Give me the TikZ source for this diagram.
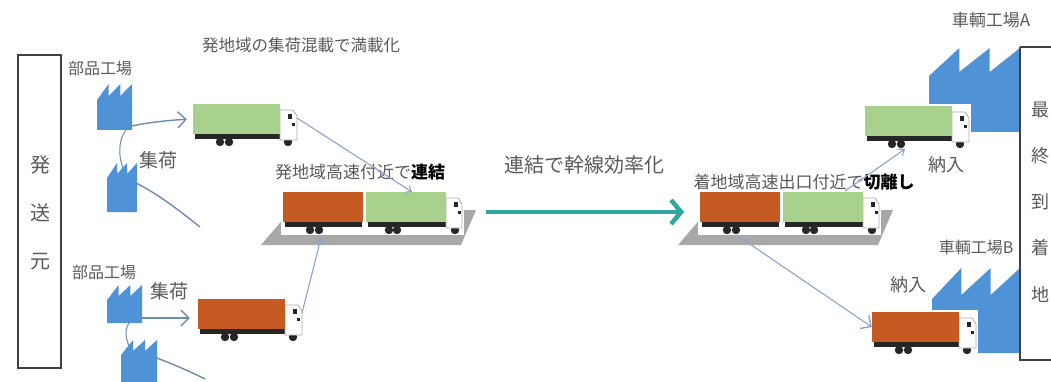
\documentclass[tikz,border=0pt]{standalone}
\usepackage{fontspec}
\newfontfamily\jp{Noto Sans CJK JP}
\usetikzlibrary{arrows.meta}

\definecolor{factoryblue}{HTML}{4F92D6}
\definecolor{cargogreen}{HTML}{A9D18E}
\definecolor{cargoorange}{HTML}{C55A22}
\definecolor{trunkteal}{HTML}{2FA69E}
\definecolor{labelgray}{HTML}{5A5A5A}
\definecolor{feedblue}{HTML}{6E8CAE}
\definecolor{linkblue}{HTML}{89A5CE}
\definecolor{platformgray}{HTML}{A8A8A8}

\tikzset{
  lbl/.style={font=\jp\fontsize{16.5}{18}\selectfont, text=labelgray, inner sep=0pt},
  biglbl/.style={font=\jp\fontsize{20}{22}\selectfont, text=labelgray, inner sep=0pt},
  cargobox/.style={inner sep=0pt, minimum height=30pt, draw=none},
  chassis/.style={black!85},
  cabline/.style={draw=gray!65, line width=0.8pt, fill=white},
  feed/.style={draw=feedblue, line width=1.4pt},
  feedarrow/.style={feed, -{Straight Barb[length=8pt,width=16pt,line width=1.4pt]}},
  link/.style={draw=linkblue, line width=1.1pt, -{Straight Barb[length=5pt,width=8pt]}},
  trunk/.style={draw=trunkteal, line width=4.5pt, -{Straight Barb[length=10pt,width=24pt,line width=4.5pt]}},
  sidebox/.style={draw=black!75, line width=1.6pt},
}

% a factory with a three-tooth saw roof: name, left x, right x, peak y, valley y, bottom y
\newcommand\factory[6]{%
  \fill[factoryblue] (#2,#6) -- (#2,{#5+4})
    -- ({#2+(#3-#2)/3},#4) -- ({#2+(#3-#2)/3},#5)
    -- ({#2+2*(#3-#2)/3},#4) -- ({#2+2*(#3-#2)/3},#5)
    -- (#3,#4) -- (#3,#6) -- cycle;
  \coordinate (#1) at ({(#2+#3)/2},{(#5+#6)/2});
}

% a single truck: name, x, y of the cargo box top-left, cargo colour
\newcommand\singletruck[4]{%
  \begin{scope}[shift={(#2,#3)}]
    \fill[white] (-2,-2) rectangle (106,45);
    \fill[chassis] (2,30) rectangle (99,35);
    \foreach \wx in {27,36,95} \fill[chassis] (\wx,38) circle[radius=4.2];
    \draw[cabline] (87,6) -- (100,6) -- (104,12) -- (104,36) -- (87,36) -- cycle;
    \fill[chassis] (95,10) rectangle (99,15);
    \fill[chassis] (99,19) rectangle (102,22);
    \node[cargobox, minimum width=87pt, fill=#4] (#1) at (43.5,15) {};
    \coordinate (#1-cab) at (104,14);
    \coordinate (#1-base) at (40,43);
  \end{scope}}

% a trailer coupled to a lead truck on a grey pad: trailer name, lead name, x, y
\newcommand\coupledtrucks[4]{%
  \begin{scope}[shift={(#3,#4)}]
    \fill[platformgray] (-22,53) -- (178,53) -- (193,18) -- (8,18) -- cycle;
    \fill[white] (-2,-2) rectangle (181,43);
    \fill[chassis] (2,30) rectangle (79,35);
    \fill[chassis] (85,30) rectangle (175,35);
    \foreach \wx in {27,36,106,114,172} \fill[chassis] (\wx,38) circle[radius=4.2];
    \draw[cabline] (163,6) -- (175,6) -- (179,12) -- (179,36) -- (163,36) -- cycle;
    \fill[chassis] (171,10) rectangle (175,15);
    \fill[chassis] (175,19) rectangle (178,22);
    \node[cargobox, minimum width=80pt, fill=cargoorange] (#1) at (40,15) {};
    \node[cargobox, minimum width=80pt, fill=cargogreen] (#2) at (123,15) {};
    \coordinate (#1-base) at (38,44);
  \end{scope}}

\begin{document}
\begin{tikzpicture}[x=1pt,y=-1pt]
\clip (0,0) rectangle (1051,382);
\fill[white] (0,0) rectangle (1051,382);

% shipper column
\draw[sidebox] (18,55) rectangle (61,368);
\node[biglbl] (s1) at (40,165) {発};
\node[biglbl] (s2) at (40,213) {送};
\node[biglbl] (s3) at (40,262) {元};

% headline
\node[lbl] (title) at (301,45) {発地域の集荷混載で満載化};

% parts plants, upper group
\node[lbl, font=\jp\fontsize{16}{18}\selectfont] (pp1) at (100,68) {部品工場};
\factory{f1}{97}{132}{84}{96}{130}
\factory{f2}{107}{137}{163}{174}{212}
\node[lbl, font=\jp\fontsize{19}{20}\selectfont] (col1) at (158,160) {集荷};

% parts plants, lower group
\node[lbl, font=\jp\fontsize{16}{18}\selectfont] (pp2) at (104,272) {部品工場};
\factory{f3}{107}{142}{285}{296}{323}
\factory{f4}{121}{157}{340}{351}{395}
\node[lbl, font=\jp\fontsize{19}{20}\selectfont] (col2) at (169,291) {集荷};

% collection trucks
\singletruck{t1}{193}{104}{cargogreen}
\singletruck{t3}{198}{299}{cargoorange}

% coupled at the origin-side expressway
\coupledtrucks{lo}{lg}{283}{192}
\node[lbl, font=\jp\fontsize{17}{18}\selectfont] (couple) at (360,172)
  {発地域高速付近で\textcolor{black}{\bfseries 連結}};

% trunk run
\node[biglbl] (trunklbl) at (584,165) {連結で幹線効率化};
\coordinate (trunkA) at (486,212);
\coordinate (trunkB) at (684,212);
\draw[trunk] (trunkA) -- (trunkB);

% destination plants
\factory{fa}{929}{1020}{48}{72}{132}
\factory{fb}{932}{1020}{268}{295}{353}
\node[lbl, font=\jp\fontsize{17}{18}\selectfont] (pa) at (991,20) {車輌工場A};
\node[lbl, font=\jp\fontsize{16}{18}\selectfont] (pb) at (976,247) {車輌工場B};

% split at the destination-side exit
\coupledtrucks{ro}{rg}{700}{192}
\node[lbl, font=\jp\fontsize{17}{18}\selectfont] (split) at (804,182)
  {着地域高速出口付近で\textcolor{black}{\bfseries 切離し}};

% delivery trucks
\singletruck{ta}{865}{106}{cargogreen}
\singletruck{tb}{872}{312}{cargoorange}
\node[lbl, font=\jp\fontsize{18}{20}\selectfont] (da) at (946,165) {納入};
\node[lbl, font=\jp\fontsize{18}{20}\selectfont] (db) at (908,285) {納入};

% final destination column
\draw[sidebox] (1020,47) -- (1020,360) -- (1060,360);
\draw[sidebox] (1020,47) -- (1060,47);
\node[lbl, font=\jp\fontsize{18}{20}\selectfont] (d1) at (1040,110) {最};
\node[lbl, font=\jp\fontsize{18}{20}\selectfont] (d2) at (1040,156) {終};
\node[lbl, font=\jp\fontsize{18}{20}\selectfont] (d3) at (1040,202) {到};
\node[lbl, font=\jp\fontsize{18}{20}\selectfont] (d4) at (1040,248) {着};
\node[lbl, font=\jp\fontsize{18}{20}\selectfont] (d5) at (1040,294) {地};

% collection runs
\coordinate (f1-out) at (132,126);
\coordinate (f1-low) at (126,130);
\coordinate (f2-top) at (124,170);
\coordinate (f2-out) at (136,183);
\coordinate (f2-trail) at (200,227);
\coordinate (f3-out) at (142,318);
\coordinate (f3-low) at (129,323);
\coordinate (f4-top) at (129,346);
\coordinate (f4-out) at (157,358);
\coordinate (f4-trail) at (205,379);
\draw[feedarrow, shorten >=6pt] (f1-out) .. controls +(18,-4) and +(-20,1) .. (t1.west);
\draw[feed, line width=1pt] (f1-low) .. controls +(-8,10) and +(-6,-12) .. (f2-top);
\draw[feed] (f2-out) .. controls +(20,10) and +(-25,-20) .. (f2-trail);
\draw[feedarrow, shorten >=8pt] (f3-out) -- (t3.west |- f3-out);
\draw[feed, line width=1pt] (f3-low) .. controls +(-5,8) and +(-3,-8) .. (f4-top);
\draw[feed] (f4-out) .. controls +(15,6) and +(-20,-10) .. (f4-trail);

% trucks into the coupling point
\coordinate (lg-in) at (412,192);
\draw[link] (t1-cab) -- (lg-in);
\coordinate (lo-in) at (321,238);
\draw[link] (t3-cab) -- (lo-in);

% split trucks out to the plants
\coordinate (rg-out) at (845,191);
\draw[link] (rg-out) -- (ta-base);
\draw[feedarrow, line width=1.1pt, draw=linkblue] (ro-base) -- (tb.west);
\end{tikzpicture}
\end{document}
